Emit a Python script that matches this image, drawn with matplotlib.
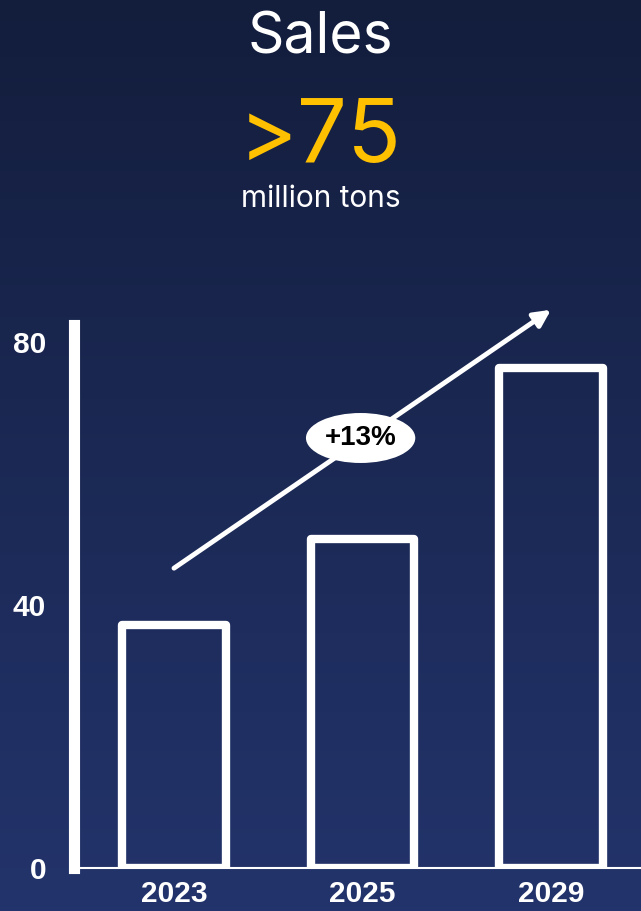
import numpy as np
import matplotlib
matplotlib.use('Agg')
import matplotlib.pyplot as plt
from matplotlib.patches import Rectangle, Ellipse

years = ['2023', '2025', '2029']
sales = [37, 50, 76]          # million tons
yticks = [0, 40, 80]
growth_label = '+13%'

W, H, DPI = 641, 911, 100
fig = plt.figure(figsize=(W / DPI, H / DPI), dpi=DPI)

# navy vertical gradient background
bg = fig.add_axes([0, 0, 1, 1], zorder=-10)
top = np.array([19, 29, 60]) / 255
bot = np.array([35, 52, 108]) / 255
t = np.linspace(0, 1, 256)[:, None]
grad = (top[None, :] * (1 - t) + bot[None, :] * t)[:, None, :]
bg.imshow(grad, aspect='auto', extent=[0, 1, 0, 1])
bg.axis('off')

# headline text
fig.text(0.5, 1 - 39 / H, 'Sales', ha='center', va='center', color='white',
         fontsize=41, family='Inter')
fig.text(0.5, 1 - 139 / H, '>75', ha='center', va='center', color='#FFC000',
         fontsize=64, family='Inter')
fig.text(0.5, 1 - 199 / H, 'million tons', ha='center', va='center', color='white',
         fontsize=21.5, family='Inter')

# chart axes: y=0 at 868px, y=80 at 342px, axis line top at 325px
left_px, bottom_px, top_px = 74, 868, 325
ax = fig.add_axes([left_px / W, (H - bottom_px) / H, (W - left_px) / W,
                   (bottom_px - top_px) / H])
ax.set_facecolor('none')
ppu = (868 - 342) / 80
ax.set_ylim(0, (bottom_px - top_px) / ppu)
step = 188.5
ax.set_xlim(-(174 - left_px) / step, (W - 174) / step)

x = np.arange(len(years))
bw = 0.55
for xi, v in zip(x, sales):
    ax.add_patch(Rectangle((xi - bw / 2, 0), bw, v, facecolor='none',
                           edgecolor='white', lw=6, joinstyle='round', zorder=3))

for s in ['top', 'right']:
    ax.spines[s].set_visible(False)
ax.spines['left'].set_color('white')
ax.spines['left'].set_linewidth(8)
ax.spines['bottom'].set_color('white')
ax.spines['bottom'].set_linewidth(1.5)

ax.set_yticks(yticks)
ax.set_yticklabels([str(v) for v in yticks])
ax.set_xticks(x)
ax.set_xticklabels(years)
ax.tick_params(length=0, colors='white', labelsize=21.5)
ax.tick_params(axis='y', pad=20)
ax.tick_params(axis='x', pad=9)
for lab in ax.get_xticklabels() + ax.get_yticklabels():
    lab.set_family('Liberation Sans')
    lab.set_fontweight('bold')

# growth arrow with CAGR badge
ax.annotate('', xy=(2.0, 84.9), xytext=(0.0, 45.6), annotation_clip=False,
            arrowprops=dict(arrowstyle='-|>,head_length=1.0,head_width=0.5',
                            color='white', lw=3.5, shrinkA=0, shrinkB=0))
ax.add_patch(Ellipse((0.99, 65.4), 0.58, 7.6, facecolor='white',
                     edgecolor='none', zorder=5))
ax.text(0.99, 65.4, growth_label, ha='center', va='center', fontsize=20,
        fontweight='bold', family='Liberation Sans', color='black', zorder=6)

fig.savefig('out.png', dpi=DPI)
